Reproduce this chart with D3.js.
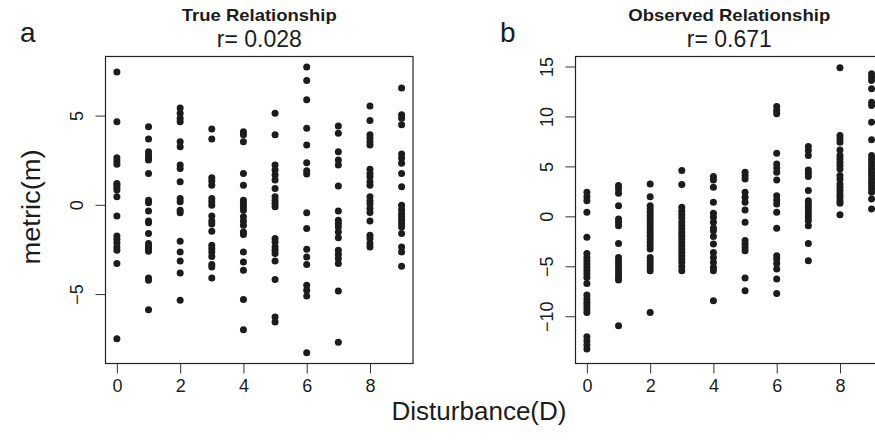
<!DOCTYPE html>
<html>
<head>
<meta charset="utf-8">
<script src="https://cdn.jsdelivr.net/npm/d3@7/dist/d3.min.js"></script>
<style>
  html, body { margin: 0; padding: 0; background: #fff; }
  svg { display: block; font-family: "Liberation Sans", Arial, Helvetica, sans-serif; }
</style>
</head>
<body>
<svg id="chart" width="875" height="441"></svg>
<script>
// ---- data ----
const disturbance = [0, 1, 2, 3, 4, 5, 6, 7, 8, 9];

const trueMetric = [
  [7.44, 4.65, 2.64, 2.46, 2.27, 1.20, 1.10, 0.96, 0.83, 0.45, -0.62, -1.74, -1.93, -2.13, -2.36, -2.54, -3.29, -7.51],
  [4.38, 3.69, 2.98, 2.79, 2.64, 2.51, 1.76, 0.26, 0.11, -0.34, -0.90, -1.01, -1.61, -2.17, -2.32, -2.45, -2.60, -4.10, -4.23, -5.88],
  [5.42, 5.13, 4.85, 4.66, 3.54, 3.26, 2.23, 2.04, 1.29, 0.36, 0.17, -0.30, -0.45, -2.04, -2.64, -3.15, -3.82, -5.35],
  [4.25, 3.69, 1.52, 1.33, 1.10, 0.36, 0.17, -0.02, -0.62, -0.90, -1.08, -1.48, -2.26, -2.45, -2.64, -2.90, -3.35, -3.48, -4.10],
  [4.10, 3.92, 3.54, 1.76, 1.10, 0.26, 0.08, -0.11, -0.30, -0.67, -0.90, -1.14, -1.52, -1.66, -2.64, -3.20, -3.67, -5.31, -7.00],
  [5.13, 3.92, 2.23, 1.95, 1.67, 1.39, 0.92, 0.45, 0.26, 0.08, -0.11, -1.89, -2.08, -2.36, -2.54, -2.73, -3.15, -4.19, -6.29, -6.57],
  [7.72, 6.97, 5.88, 4.29, 3.35, 2.36, 1.91, 1.72, -0.45, -1.33, -2.49, -2.92, -3.35, -4.51, -4.79, -5.11, -8.29],
  [4.42, 4.01, 2.98, 2.51, 2.23, 1.05, -0.34, -0.86, -1.04, -1.24, -1.52, -1.85, -2.54, -2.77, -3.01, -3.29, -4.83, -7.70],
  [5.54, 4.72, 3.92, 3.73, 3.54, 3.35, 1.99, 1.76, 1.57, 1.29, 1.10, 0.45, 0.22, 0.04, -0.20, -0.43, -0.90, -1.70, -1.89, -2.17, -2.36],
  [6.54, 5.04, 4.85, 4.48, 2.85, 2.61, 2.33, 1.76, 1.01, -0.02, -0.26, -0.48, -0.67, -0.86, -1.04, -1.24, -1.61, -2.36, -2.64, -3.44]
];

const observedMetric = [
  [2.40, 1.97, 1.57, 0.40, -2.10, -3.71, -4.11, -4.44, -4.77, -5.11, -5.44, -5.77, -6.11, -6.71, -7.88, -8.28, -8.62, -8.95, -9.28, -9.62, -12.06, -12.46, -12.89, -13.29],
  [3.08, 2.74, 2.30, 1.07, -0.26, -0.60, -0.93, -2.71, -4.11, -4.44, -4.77, -5.11, -5.44, -5.77, -6.11, -6.37, -10.95],
  [3.25, 1.97, 1.07, 0.74, 0.40, 0.07, -0.26, -0.60, -0.93, -1.27, -1.60, -1.93, -2.26, -2.61, -2.94, -3.27, -4.11, -4.44, -4.77, -5.11, -5.44, -9.62],
  [4.58, 3.18, 0.90, 0.50, 0.17, -0.16, -0.60, -0.93, -1.26, -1.60, -1.93, -2.26, -2.61, -2.94, -3.27, -3.61, -3.94, -4.27, -4.61, -5.04, -5.44],
  [3.98, 3.65, 2.91, 1.40, 0.30, -0.10, -0.60, -1.16, -1.43, -2.03, -2.77, -3.61, -4.11, -4.61, -5.11, -5.44, -8.45],
  [4.41, 4.08, 3.75, 2.40, 1.90, 1.40, 0.64, -0.60, -2.43, -2.77, -3.11, -3.44, -6.17, -7.44],
  [10.99, 10.59, 10.26, 6.31, 5.25, 4.85, 4.41, 3.65, 2.07, 1.64, 1.24, 0.40, -1.20, -3.94, -4.27, -4.71, -5.27, -6.27, -7.72],
  [6.98, 6.58, 6.08, 4.65, 4.31, 3.98, 2.58, 1.57, 1.24, 0.90, 0.57, 0.24, -0.10, -0.43, -0.93, -2.71, -4.44],
  [14.87, 8.09, 7.76, 7.41, 6.65, 6.08, 5.76, 5.41, 5.08, 4.75, 4.08, 3.75, 3.25, 2.91, 2.58, 2.24, 1.90, 1.57, 1.30, 0.17],
  [14.27, 13.93, 13.60, 12.77, 11.42, 11.09, 9.42, 7.66, 6.08, 5.75, 5.41, 5.08, 4.75, 4.41, 4.08, 3.75, 3.41, 3.08, 2.74, 2.40, 1.74, 0.74]
];

const xTicks = [0, 2, 4, 6, 8];
const yTicksTrue = [-5, 0, 5];
const yTicksObserved = [-10, -5, 0, 5, 10, 15];
const panelTitles = ["True Relationship", "Observed Relationship"];
const panelStats = ["r= 0.028", "r= 0.671"];
const panelLetters = ["a", "b"];
const xLabel = "Disturbance(D)";
const yLabel = "metric(m)";

// ---- drawing ----
(function () {
const svg = d3.select("#chart");
const ink = "#1c1c1c";

const panels = [
  { values: trueMetric, yTicks: yTicksTrue, yDomain: [-8.89, 8.31], left: 105.5, right: 413, letterX: 20 },
  { values: observedMetric, yTicks: yTicksObserved, yDomain: [-14.73, 16.0], left: 575.5, right: 883, letterX: 500 }
];
const boxTop = 56.5, boxBottom = 363.5;

panels.forEach((p, i) => {
  const x = d3.scaleLinear().domain([-0.36, 9.36]).range([p.left, p.right]);
  const y = d3.scaleLinear().domain(p.yDomain).range([boxBottom, boxTop]);
  const g = svg.append("g");

  // points
  const pts = [];
  p.values.forEach((col, ci) => col.forEach(v => pts.push([disturbance[ci], v])));
  g.selectAll("circle").data(pts).join("circle")
    .attr("cx", d => x(d[0])).attr("cy", d => y(d[1]))
    .attr("r", 3.5).attr("fill", ink);

  // box
  g.append("rect").attr("x", p.left).attr("y", boxTop)
    .attr("width", p.right - p.left).attr("height", boxBottom - boxTop)
    .attr("fill", "none").attr("stroke", "#222").attr("stroke-width", 1.2);

  // x axis
  const xa = g.append("g").attr("transform", `translate(0,${boxBottom})`)
    .call(d3.axisBottom(x).tickValues(xTicks).tickSize(10).tickPadding(6));
  xa.select(".domain").remove();
  xa.selectAll("line").attr("stroke", "#333");
  xa.selectAll("text").attr("font-size", 18).attr("fill", ink)
    .attr("font-family", "Liberation Sans, Arial, sans-serif");

  // y axis
  const ya = g.append("g").attr("transform", `translate(${p.left},0)`)
    .call(d3.axisLeft(y).tickValues(p.yTicks).tickSize(10).tickFormat(d => d < 0 ? "\u2212" + Math.abs(d) : d));
  ya.select(".domain").remove();
  ya.selectAll("line").attr("stroke", "#333");
  ya.selectAll("text")
    .attr("font-size", 18).attr("fill", ink)
    .attr("font-family", "Liberation Sans, Arial, sans-serif")
    .attr("text-anchor", "middle").attr("dy", null)
    .attr("x", null)
    .attr("transform", "translate(-23,0) rotate(-90)")
    .attr("y", 0);

  const cx = (p.left + p.right) / 2;
  svg.append("text").attr("x", cx).attr("y", 21)
    .attr("text-anchor", "middle").attr("font-weight", "bold").attr("font-size", 17)
    .attr("textLength", i === 0 ? 155 : 202).attr("lengthAdjust", "spacingAndGlyphs")
    .attr("fill", ink).text(panelTitles[i]);
  svg.append("text").attr("x", cx).attr("y", 47)
    .attr("text-anchor", "middle").attr("font-size", 23)
    .attr("fill", ink).text(panelStats[i]);
  svg.append("text").attr("x", p.letterX).attr("y", 42)
    .attr("font-size", 28).attr("fill", ink).text(panelLetters[i]);
});

svg.append("text").attr("x", 479).attr("y", 420)
  .attr("text-anchor", "middle").attr("font-size", 26)
  .attr("textLength", 175).attr("lengthAdjust", "spacingAndGlyphs")
  .attr("fill", ink).text(xLabel);

svg.append("text").attr("transform", "translate(40,207) rotate(-90)")
  .attr("text-anchor", "middle").attr("font-size", 26)
  .attr("textLength", 115).attr("lengthAdjust", "spacingAndGlyphs")
  .attr("fill", ink).text(yLabel);
})();
</script>
</body>
</html>
